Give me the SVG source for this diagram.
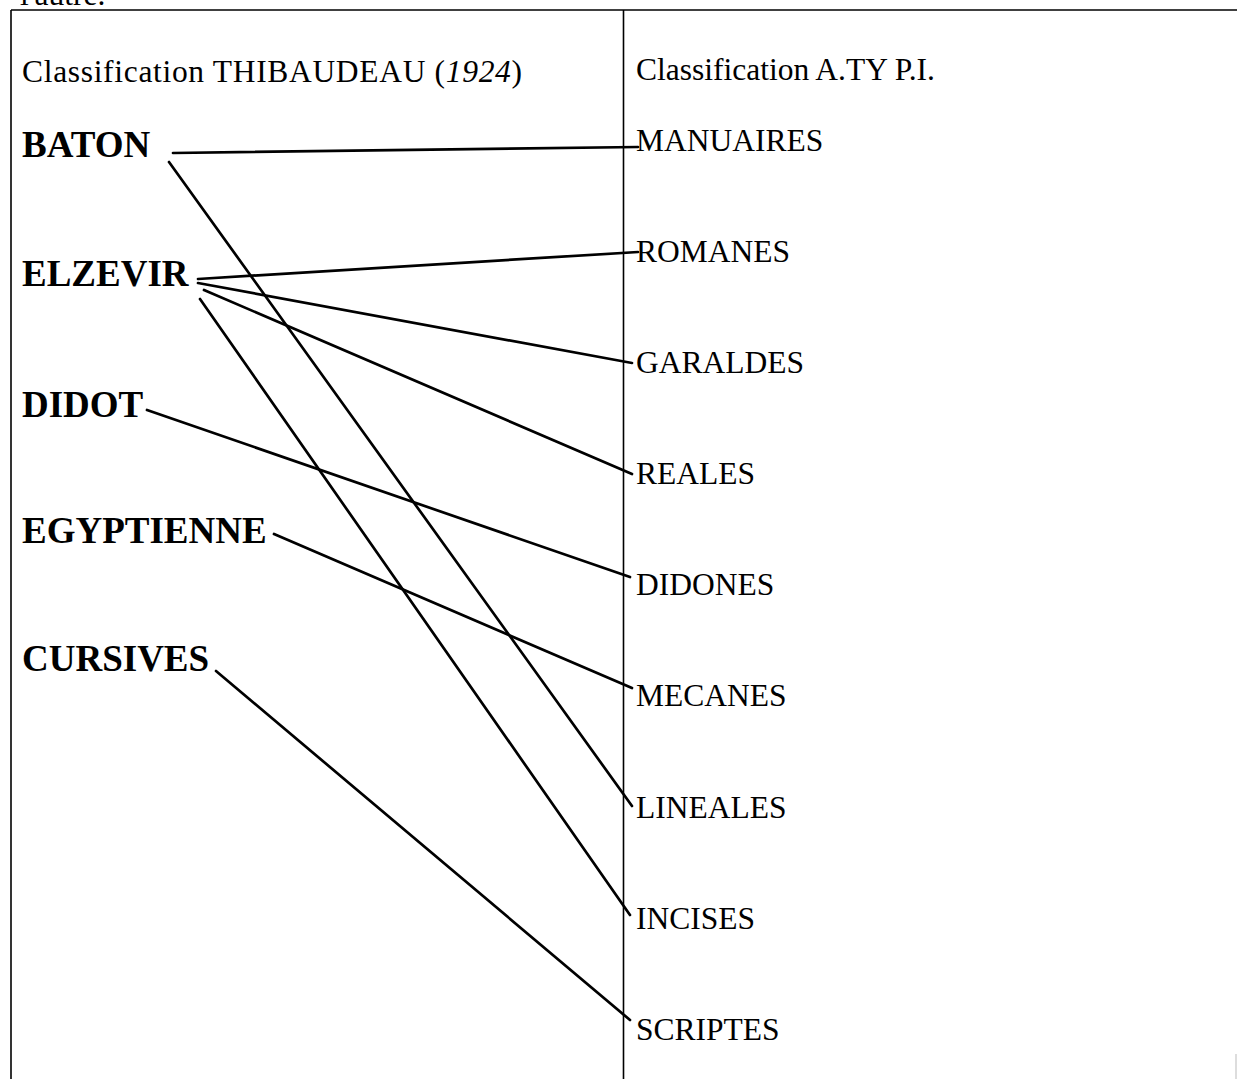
<svg xmlns="http://www.w3.org/2000/svg" width="1237" height="1079" viewBox="0 0 1237 1079">
<style>
.reg{font-family:"Liberation Serif","Times New Roman",serif;font-size:31.5px;fill:#000}
.bold{font-family:"Liberation Serif","Times New Roman",serif;font-size:37px;font-weight:bold;fill:#000}
.frame{stroke:#000;stroke-width:1.6;fill:none}
.conn line{stroke:#000;stroke-width:2.7;stroke-linecap:round}
</style>
<rect width="1237" height="1079" fill="#fff"/>
<text class="reg" x="20" y="5">l'autre.</text>
<g id="frame">
<line class="frame" x1="11" y1="10" x2="1237" y2="10"/>
<line class="frame" x1="11" y1="10" x2="11" y2="1079"/>
<line class="frame" x1="623.5" y1="10" x2="623.5" y2="1079"/>
<line x1="1236" y1="1054" x2="1236" y2="1079" stroke="#bbb" stroke-width="1"/>
</g>
<g id="headers">
<text class="reg" x="22" y="82" textLength="500" lengthAdjust="spacing">Classification THIBAUDEAU (<tspan font-style="italic">1924</tspan>)</text>
<text class="reg" x="636" y="80">Classification A.TY P.I.</text>
</g>
<g id="left-nodes">
<g id="n-baton"><text class="bold" x="22" y="157">BATON</text></g>
<g id="n-elzevir"><text class="bold" x="22" y="286">ELZEVIR</text></g>
<g id="n-didot"><text class="bold" x="22" y="417">DIDOT</text></g>
<g id="n-egyptienne"><text class="bold" x="22" y="543">EGYPTIENNE</text></g>
<g id="n-cursives"><text class="bold" x="22" y="671">CURSIVES</text></g>
</g>
<g id="right-nodes">
<g id="n-manuaires"><text class="reg" x="636" y="151">MANUAIRES</text></g>
<g id="n-romanes"><text class="reg" x="636" y="262">ROMANES</text></g>
<g id="n-garaldes"><text class="reg" x="636" y="373">GARALDES</text></g>
<g id="n-reales"><text class="reg" x="636" y="484">REALES</text></g>
<g id="n-didones"><text class="reg" x="636" y="595">DIDONES</text></g>
<g id="n-mecanes"><text class="reg" x="636" y="706">MECANES</text></g>
<g id="n-lineales"><text class="reg" x="636" y="818">LINEALES</text></g>
<g id="n-incises"><text class="reg" x="636" y="929">INCISES</text></g>
<g id="n-scriptes"><text class="reg" x="636" y="1040">SCRIPTES</text></g>
</g>
<g id="connectors" class="conn">
<line x1="173" y1="153" x2="638" y2="147"/>
<line x1="169" y1="162" x2="632" y2="806"/>
<line x1="198" y1="279" x2="638" y2="252"/>
<line x1="198" y1="283" x2="632" y2="363"/>
<line x1="204" y1="290" x2="632" y2="474"/>
<line x1="200" y1="299" x2="630" y2="915"/>
<line x1="147" y1="410" x2="630" y2="577"/>
<line x1="274" y1="534" x2="632" y2="688"/>
<line x1="216" y1="671" x2="630" y2="1020"/>
</g>
</svg>
